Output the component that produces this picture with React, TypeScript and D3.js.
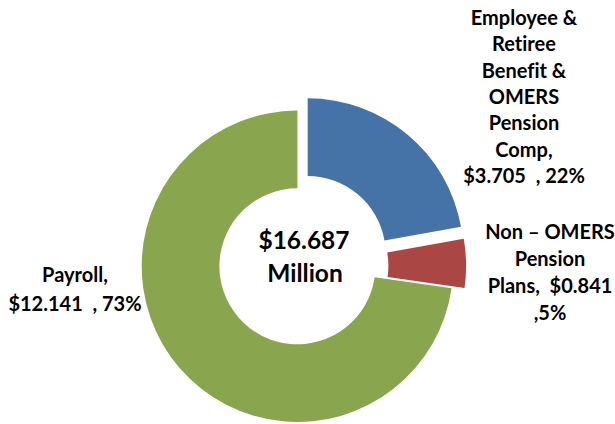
import React from "react";
import * as d3 from "d3";

const categories = ["Employee & Retiree Benefit & OMERS Pension Comp", "Non – OMERS Pension Plans", "Payroll"];
const values = [3.705, 0.841, 12.141];
const percents = ["22%", "5%", "73%"];
const colors = ["#4572A7", "#AA4643", "#89A54E"];
const explode = [16, 13, 0];
const totalLabel = ["$16.687", "Million"];
const labelLines = [
  ["Employee &", "Retiree", "Benefit &", "OMERS", "Pension", "Comp,", "$3.705  , 22%"],
  ["Non – OMERS", "Pension", "Plans,  $0.841", ",5%"],
  ["Payroll,", "$12.141  , 73%"],
];

const W = 615, H = 424;
const cx = 297.4, cy = 266.3;
const outerR = 155.7, innerR = 78;
const labelPos = [
  { x: 524, y: 17, dy: 26.3 },
  { x: 550, y: 231, dy: 27 },
  { x: 75, y: 274, dy: 29 },
];

export default function App() {
  const pie = d3.pie<number>().sort(null).startAngle(0).endAngle(2 * Math.PI)(values);
  const arc = d3.arc<d3.PieArcDatum<number>>().innerRadius(innerR).outerRadius(outerR);
  const font = "Lato, 'Open Sans', sans-serif";
  return (
    <svg width={W} height={H} style={{ position: "absolute", left: 0, top: 0, background: "#fff" }}>
      <g transform={`translate(${cx},${cy})`}>
        {pie.map((d, i) => {
          const mid = (d.startAngle + d.endAngle) / 2;
          const ox = Math.sin(mid) * explode[i];
          const oy = -Math.cos(mid) * explode[i];
          return (
            <path key={i} d={arc(d) || ""} fill={colors[i]} transform={`translate(${ox},${oy})`}>
              <title>{categories[i]}: {values[i]} ({percents[i]})</title>
            </path>
          );
        })}
      </g>
      <g fontFamily={font} fontWeight="bold" fill="#000" textAnchor="middle" style={{ whiteSpace: "pre", fontVariantLigatures: "none" }}>
        <text x={304} y={239} fontSize={24.5} dominantBaseline="central">{totalLabel[0]}</text>
        <text x={305} y={272} fontSize={24.5} dominantBaseline="central">{totalLabel[1]}</text>
        {labelLines.map((lines, i) =>
          lines.map((t, j) => (
            <text key={`${i}-${j}`} xmlSpace="preserve" x={labelPos[i].x} y={labelPos[i].y + j * labelPos[i].dy} fontSize={20} dominantBaseline="central">{t}</text>
          ))
        )}
      </g>
    </svg>
  );
}
